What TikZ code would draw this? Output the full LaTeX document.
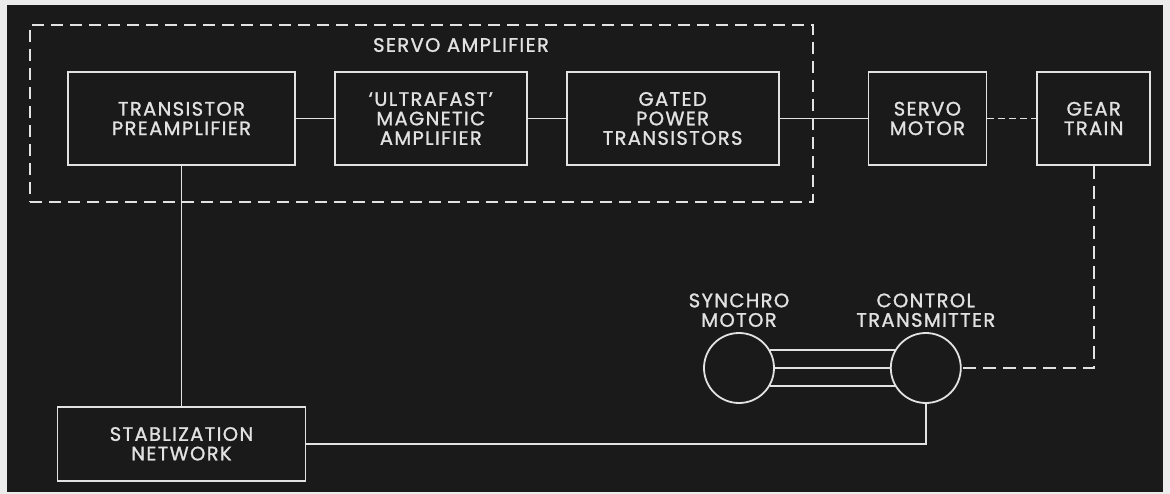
\documentclass[tikz,border=0pt]{standalone}
\usepackage{fontspec}
\setmainfont{Poppins}[LetterSpace=7, FakeBold=1.2]
\usetikzlibrary{positioning}
\definecolor{panel}{RGB}{26,26,26}
\definecolor{chalk}{RGB}{226,226,226}
\definecolor{margin}{RGB}{236,236,236}
\tikzset{
  font=\fontsize{19.5}{19.5}\selectfont,
  block/.style   = {rectangle, draw=chalk, text=chalk, line width=1.8pt,
                    minimum height=93pt, align=center, inner sep=2pt},
  ampbox/.style  = {rectangle, draw=chalk, line width=1.8pt,
                    dash pattern=on 12pt off 7pt},
  synchro/.style = {circle, draw=chalk, line width=1.8pt,
                    minimum size=70pt, inner sep=0pt},
  caption/.style = {text=chalk, align=center, inner sep=1pt},
  wire/.style    = {draw=chalk, line width=1.8pt},
  shaft/.style   = {wire, dash pattern=on 13pt off 7pt}
}

\begin{document}
\begin{tikzpicture}[x=1pt, y=-1pt]
  \useasboundingbox (0,0) rectangle (1170,494);
  \fill[margin] (0,0) rectangle (1170,494);
  \fill[panel] (7,5) rectangle (1163,492);

  \node[ampbox, minimum width=783pt, minimum height=177pt] (amp) at (421.5,113.5) {};
  \node[caption] (amplbl) at (461,45) {SERVO AMPLIFIER};

  \node[block, minimum width=227pt] (pre) at (181.5,118.5) {TRANSISTOR\\PREAMPLIFIER};
  \node[block, minimum width=192pt, right=38pt of pre]   (mag)   {`ULTRAFAST'\\MAGNETIC\\AMPLIFIER};
  \node[block, minimum width=212pt, right=38pt of mag]   (gate)  {GATED\\POWER\\TRANSISTORS};
  \node[block, minimum width=118pt, right=88pt of gate]  (servo) {SERVO\\MOTOR};
  \node[block, minimum width=113pt, right=49pt of servo] (gear)  {GEAR\\TRAIN};
  \node[block, minimum width=248pt, minimum height=74pt, below=240pt of pre] (stab) {STABLIZATION\\NETWORK};

  \node[synchro] (syn) at (739,368) {};
  \node[synchro, right=115pt of syn] (ctl) {};
  \node[caption, above=4pt of syn] (synlbl) {SYNCHRO\\MOTOR};
  \node[caption, above=4pt of ctl] (ctllbl) {CONTROL\\TRANSMITTER};

  \draw[wire]  (pre) -- (mag);
  \draw[wire]  (mag) -- (gate);
  \draw[wire]  (gate) -- (servo);
  \draw[shaft, dash pattern=on 7pt off 4pt] (servo) -- (gear);
  \draw[shaft] (gear) |- (ctl);
  \draw[wire]  (pre) -- (stab);
  \draw[wire]  (stab) -| (ctl);
  \draw[wire]  (syn.30) -- (ctl.150);
  \draw[wire]  (syn) -- (ctl);
  \draw[wire]  (syn.-30) -- (ctl.-150);
\end{tikzpicture}
\end{document}
